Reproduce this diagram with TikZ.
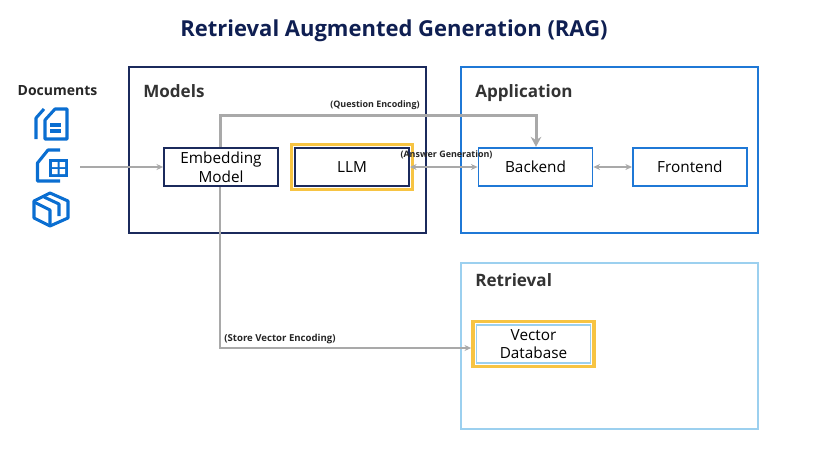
\documentclass[tikz,border=0pt]{standalone}
\usepackage{fontspec}
\setmainfont{Open Sans}
\usetikzlibrary{positioning, arrows.meta, calc}
\definecolor{ragnavy}{HTML}{1B2A5C}
\definecolor{ragblue}{HTML}{1F78D6}
\definecolor{ragicon}{HTML}{0A6ED1}
\definecolor{raglight}{HTML}{9CD0EF}
\definecolor{raggold}{HTML}{F7C443}
\definecolor{raggray}{HTML}{A9A9A9}
\definecolor{ragtitle}{HTML}{0F1F52}
\begin{document}
\begin{tikzpicture}[x=0.75pt, y=-0.75pt,
    group/.style={draw=#1, line width=1.5pt, minimum width=222.75pt, minimum height=124.5pt, anchor=north west},
    inner/.style={draw=#1, line width=1.3pt, fill=white, minimum width=85.5pt, minimum height=29pt, align=center, font=\fontsize{11.5}{13.5}\selectfont, inner sep=0pt},
    gold/.style={draw=raggold, line width=2.7pt, minimum width=90.8pt, minimum height=34pt},
    heading/.style={font=\fontsize{12.8}{15}\selectfont\bfseries, text=black!80, anchor=base west, inner sep=0pt},
    flowlabel/.style={font=\fontsize{6.7}{8}\selectfont\bfseries, text=black!85, inner sep=0pt},
    flow/.style={draw=raggray, line width=1.1pt, -{Stealth[length=5pt,width=4.5pt]}},
    flowboth/.style={draw=raggray, line width=1.1pt, {Stealth[length=5pt,width=4.5pt]}-{Stealth[length=5pt,width=4.5pt]}},
    icon/.style={draw=ragicon, line width=2.3pt, line join=round}]
  \useasboundingbox (0,0) rectangle (823,450);
  % title
  \node[font=\fontsize{16.5}{20}\selectfont\bfseries, text=ragtitle, inner sep=0pt, anchor=base] (title) at (394,36) {Retrieval Augmented Generation (RAG)};
  % groups
  \node[group=ragnavy] (models) at (128,66) {};
  \node[group=ragblue] (application) at (460,66) {};
  \node[group=raglight] (retrieval) at (460,262) {};
  \node[heading] (modelslabel) at (143,97) {Models};
  \node[heading] (applicationlabel) at (475,97) {Application};
  \node[heading] (retrievallabel) at (475,286) {Retrieval};
  % boxes
  \node[inner=ragnavy] (embed) at (221,167) {Embedding\\[1pt]Model};
  \node[inner=ragnavy, right=11.5pt of embed] (llm) {LLM};
  \node[inner=ragblue] (backend) at (535.5,167) {Backend};
  \node[inner=ragblue, right=29pt of backend] (frontend) {Frontend};
  \node[inner=raglight] (vector) at (533.5,344) {Vector\\Database};
  \node[gold] (llmgold) at (llm) {};
  \node[gold] (vectorgold) at (vector) {};
  % documents
  \node[font=\fontsize{10.5}{12}\selectfont\bfseries, text=black!85, inner sep=0pt] (documents) at (57.5,91) {Documents};
  \draw[icon] (45,120) -- (45,139) -- (67,139) -- (67,109) -- (55,109) -- cycle;
  \draw[icon] (36,139) -- (36,118) -- (44,109);
  \draw[icon] (50,125) -- (61,125) (50,131) -- (61,131);
  \draw[icon] (60,150) -- (48,150) -- (37.5,163) -- (37.5,181) -- (60,181);
  \fill[ragicon] (49,159) rectangle (68,177);
  \fill[white] (52,162) rectangle (57.5,167) (59.5,162) rectangle (65,167) (52,169) rectangle (57.5,174) (59.5,169) rectangle (65,174);
  \draw[icon] (50,193) -- (68,201) -- (68,218) -- (50,226) -- (34,218) -- (34,201) -- cycle;
  \draw[icon] (34,202) -- (50,210) -- (50,226);
  \draw[icon] (44,197) -- (59,204) -- (59,216);
  % connectors
  \coordinate (docsout) at (80,167);
  \coordinate (questionleft) at (220,115);
  \coordinate (questionright) at (536,115);
  \coordinate (storeend) at ($(vectorgold.west)+(0,4)$);
  \draw[flow] (docsout) -- (embed.west);
  \draw[flow, line width=2.25pt, -{Stealth[length=7.5pt,width=8pt]}] (questionleft |- embed.north) -- (questionleft) -- (questionright) -- (questionright |- backend.north);
  \draw[flowboth] (llm.east) -- (backend.west);
  \draw[flowboth] (backend.east) -- (frontend.west);
  \draw[flow] (questionleft |- embed.south) |- (storeend);
  % connector labels
  \node[flowlabel] (questionlabel) at (375,105) {(Question Encoding)};
  \node[flowlabel] (answerlabel) at (446.5,155) {(Answer Generation)};
  \node[flowlabel, font=\fontsize{7.2}{8}\selectfont\bfseries] (storelabel) at (280,339) {(Store Vector Encoding)};
\end{tikzpicture}
\end{document}
